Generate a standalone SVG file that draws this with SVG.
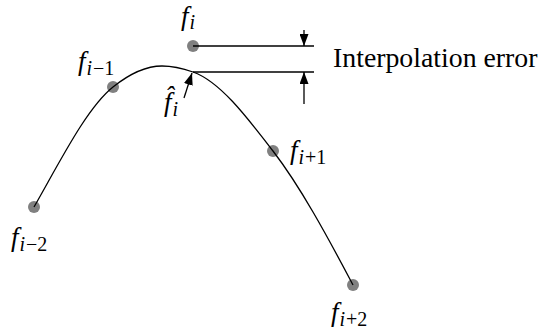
<svg xmlns="http://www.w3.org/2000/svg" width="538" height="331" viewBox="0 0 538 331">
<defs>
<style>
.dot{fill:#808080}
.ln{stroke:#000;stroke-width:1.3;fill:none}
.m{font-family:"Liberation Serif","Times New Roman",serif;font-style:italic;font-size:27px;fill:#000}
.s{font-size:20px}
.u{font-style:normal}
.t{font-family:"Liberation Serif","Times New Roman",serif;font-size:27.8px;fill:#000}
</style>
<marker id="ah" viewBox="0 0 12 9" refX="12" refY="4.5" markerWidth="12" markerHeight="9" markerUnits="userSpaceOnUse" orient="auto">
<path d="M0,0 L12,4.5 L0,9 Z" fill="#000"/>
</marker>
</defs>
<g id="p-im2"><circle class="dot" cx="34" cy="207" r="6"/><text class="m" x="11" y="246">f<tspan class="s" dx="1" dy="5">i</tspan><tspan class="s u" dx="1">−2</tspan></text></g>
<g id="p-im1"><circle class="dot" cx="113" cy="87" r="6"/><text class="m" x="78" y="70">f<tspan class="s" dx="1" dy="5">i</tspan><tspan class="s u" dx="1">−1</tspan></text></g>
<g id="p-i"><circle class="dot" cx="193" cy="46" r="6"/><text class="m" x="181" y="25">f<tspan class="s" dx="1" dy="4">i</tspan></text></g>
<g id="p-hat"><text class="m" x="164" y="111">f&#x302;<tspan class="s" dx="1" dy="5">i</tspan></text></g>
<g id="p-ip1"><circle class="dot" cx="273" cy="151" r="6"/><text class="m" x="290" y="159">f<tspan class="s" dx="1" dy="5">i</tspan><tspan class="s u" dx="1">+1</tspan></text></g>
<g id="p-ip2"><circle class="dot" cx="353" cy="285" r="6"/><text class="m" x="331" y="321">f<tspan class="s" dx="1" dy="5">i</tspan><tspan class="s u" dx="1">+2</tspan></text></g>
<g id="label"><text class="t" x="333" y="67">Interpolation error</text></g>
<g id="connectors">
<path class="ln" d="M34,207 C60.3,161 86.7,108 113,87 C129.3,74 145.7,66 162,66 C172.3,66 182.7,68.4 193,72 C219.7,81.3 246.3,116.3 273,151 C299.7,185.7 326.3,234.3 353,285"/>
<line class="ln" x1="193" y1="46" x2="314" y2="46"/>
<line class="ln" x1="193" y1="72" x2="314" y2="72"/>
<line class="ln" x1="304" y1="30" x2="304" y2="46" marker-end="url(#ah)"/>
<line class="ln" x1="304" y1="104" x2="304" y2="72" marker-end="url(#ah)"/>
<line class="ln" x1="184" y1="98" x2="192" y2="73" marker-end="url(#ah)"/>
</g>
</svg>
